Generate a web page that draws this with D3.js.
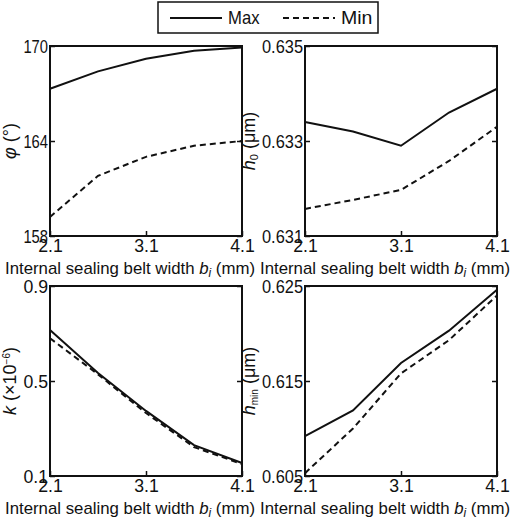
<!DOCTYPE html>
<html><head><meta charset="utf-8">
<script src="https://cdn.jsdelivr.net/npm/d3@7"></script>
<style>body{margin:0;background:#fff}text{font-family:"Liberation Sans",Arial,sans-serif;fill:#111}</style>
</head><body><div id="chart"></div>
<script>
const widths = [2.1, 2.6, 3.1, 3.6, 4.1];
const xTicks = [2.1, 3.1, 4.1];
const phiMax = [167.3, 168.4, 169.2, 169.7, 169.9];
const phiMin = [159.2, 161.8, 163.0, 163.7, 164.0];
const h0Max = [0.6334, 0.6332, 0.6329, 0.6336, 0.6341];
const h0Min = [0.63157, 0.63176, 0.63197, 0.63258, 0.6333];
const kMax = [0.715, 0.534, 0.374, 0.23, 0.155];
const kMin = [0.68, 0.528, 0.365, 0.222, 0.15];
const hminMax = [0.6092, 0.6119, 0.6169, 0.6203, 0.6246];
const hminMin = [0.6053, 0.6100, 0.6158, 0.6193, 0.6240];

const panels = [
  {x: 50, y: 46, off: -34, yTicks: [158, 164, 170], fmt: d => d, max: phiMax, min: phiMin, label: '<tspan font-style="italic">φ</tspan> (°)'},
  {x: 305, y: 46, off: -50, yTicks: [0.631, 0.633, 0.635], fmt: d3.format(".3f"), max: h0Max, min: h0Min, label: '<tspan font-style="italic">h</tspan><tspan font-size="11" dy="3">0</tspan><tspan dy="-3"> (μm)</tspan>'},
  {x: 50, y: 286, off: -34, yTicks: [0.1, 0.5, 0.9], fmt: d3.format(".1f"), max: kMax, min: kMin, label: '<tspan font-style="italic">k</tspan> (×10<tspan font-size="10" dy="-6">−6</tspan><tspan dy="6">)</tspan>'},
  {x: 305, y: 286, off: -50, yTicks: [0.605, 0.615, 0.625], fmt: d3.format(".3f"), max: hminMax, min: hminMin, label: '<tspan font-style="italic">h</tspan><tspan font-size="10" dy="3">min</tspan><tspan dy="-3"> (μm)</tspan>'}
];
const W = 192, H = 190;
const charW = 8.2;

const svg = d3.select("#chart").append("svg").attr("width", 520).attr("height", 518);

panels.forEach(p => {
  const g = svg.append("g").attr("transform", `translate(${p.x},${p.y})`);
  const x = d3.scaleLinear().domain([2.1, 4.1]).range([0, W]);
  const y = d3.scaleLinear().domain([p.yTicks[0], p.yTicks[2]]).range([H, 0]);

  g.append("g").attr("transform", `translate(0,${H})`)
    .call(d3.axisBottom(x).tickValues(xTicks).tickFormat(d3.format(".1f")).tickSize(-5).tickPadding(6))
    .call(a => a.select(".domain").remove())
    .call(a => a.selectAll(".tick text").attr("font-size", 19).attr("dy", "0.5em")
      .attr("textLength", function() { return this.textContent.length * charW; }).attr("lengthAdjust", "spacingAndGlyphs"));
  g.append("g")
    .call(d3.axisLeft(y).tickValues(p.yTicks).tickFormat(p.fmt).tickSize(-5).tickPadding(2))
    .call(a => a.select(".domain").remove())
    .call(a => a.selectAll(".tick text").attr("font-size", 19)
      .attr("textLength", function() { return this.textContent.length * charW; }).attr("lengthAdjust", "spacingAndGlyphs"));
  g.append("g").attr("transform", `translate(${W},0)`)
    .call(d3.axisRight(y).tickValues(p.yTicks).tickFormat("").tickSize(-5))
    .call(a => a.select(".domain").remove());
  g.selectAll(".tick line").attr("stroke", "#111").attr("stroke-width", 1.5);

  const line = d3.line().x((d, i) => x(widths[i])).y(d => y(d));
  g.append("path").datum(p.max).attr("d", line).attr("fill", "none").attr("stroke", "#111").attr("stroke-width", 2);
  g.append("path").datum(p.min).attr("d", line).attr("fill", "none").attr("stroke", "#111").attr("stroke-width", 2).attr("stroke-dasharray", "6,4");

  g.append("rect").attr("width", W).attr("height", H).attr("fill", "none").attr("stroke", "#111").attr("stroke-width", 2);

  g.append("text").attr("x", W / 2 - 16).attr("y", H + 38).attr("text-anchor", "middle").attr("font-size", 17)
    .attr("textLength", 250).attr("lengthAdjust", "spacingAndGlyphs")
    .html('Internal sealing belt width <tspan font-style="italic">b</tspan><tspan font-style="italic" font-size="12" dy="3">i</tspan><tspan dy="-3"> (mm)</tspan>');
  g.append("text").attr("transform", `translate(${p.off},${H / 2}) rotate(-90)`).attr("text-anchor", "middle").attr("font-size", 18)
    .html(p.label);
});

// legend
const lg = svg.append("g").attr("transform", "translate(158,2)");
lg.append("rect").attr("width", 220).attr("height", 31).attr("fill", "#fff").attr("stroke", "#111").attr("stroke-width", 1.5);
const series = [{name: "Max", dash: null}, {name: "Min", dash: "6,4"}];
series.forEach((s, i) => {
  const ox = 12 + i * 113;
  lg.append("line").attr("x1", ox).attr("x2", ox + 52).attr("y1", 16).attr("y2", 16)
    .attr("stroke", "#111").attr("stroke-width", 2).attr("stroke-dasharray", s.dash);
  lg.append("text").attr("x", ox + 58).attr("y", 22).attr("font-size", 19)
    .attr("textLength", s.name.length * 10.5).attr("lengthAdjust", "spacingAndGlyphs").text(s.name);
});
</script></body></html>
